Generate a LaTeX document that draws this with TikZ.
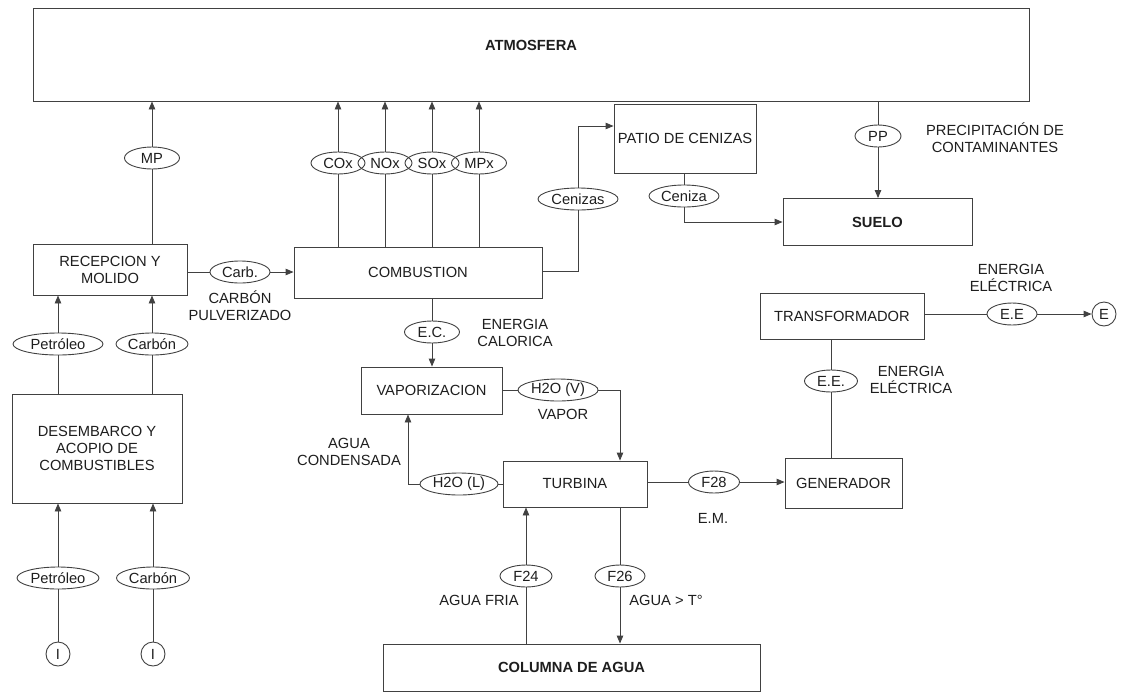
\documentclass[tikz,border=0pt]{standalone}
\usepackage{fontspec}
\setmainfont{Liberation Sans}
\usetikzlibrary{shapes.geometric,arrows.meta}
\definecolor{ln}{RGB}{65,65,65}
\definecolor{tx}{RGB}{30,30,30}
\begin{document}
\begin{tikzpicture}[x=1pt,y=-1pt,
  font=\fontsize{14.7}{17}\selectfont, text=tx,
  box/.style={draw=ln, line width=0.9pt, rectangle, inner sep=0, align=center},
  lab/.style={draw=ln, line width=0.9pt, ellipse, inner sep=0, minimum height=22},
  circ/.style={draw=ln, line width=0.9pt, circle, inner sep=0, minimum size=24},
  con/.style={draw=ln, line width=0.9pt},
  arr/.style={con, -{Triangle[length=8pt,width=6.5pt]}},
  note/.style={align=center, inner sep=0}]
\useasboundingbox (0,0) rectangle (1122,691);

% boxes
\node[box, minimum width=996, minimum height=93, text depth=19pt, font=\fontsize{14.7}{17}\selectfont\bfseries] (atm) at (531,54.5) {ATMOSFERA};
\node[box, minimum width=154, minimum height=51] (recep) at (110,269.5) {RECEPCION Y\\MOLIDO};
\node[box, minimum width=170, minimum height=109] (des) at (97,448.5) {DESEMBARCO Y\\ACOPIO DE\\COMBUSTIBLES};
\node[box, minimum width=248, minimum height=51] (comb) at (418,272.5) {COMBUSTION};
\node[box, minimum width=142, minimum height=69] (patio) at (685,138.5) {PATIO DE CENIZAS};
\node[box, minimum width=189, minimum height=47, font=\fontsize{14.7}{17}\selectfont\bfseries] (suelo) at (877.5,222) {SUELO};
\node[box, minimum width=141, minimum height=47] (vap) at (431.5,390.5) {VAPORIZACION};
\node[box, minimum width=144, minimum height=46] (turb) at (575,484) {TURBINA};
\node[box, minimum width=117, minimum height=50] (gen) at (843.5,483) {GENERADOR};
\node[box, minimum width=164, minimum height=46] (trans) at (842,316) {TRANSFORMADOR};
\node[box, minimum width=377, minimum height=47, font=\fontsize{14.7}{17}\selectfont\bfseries] (col) at (571.5,667.5) {COLUMNA DE AGUA};

% ellipse labels
\node[lab, minimum width=55] (mp) at (152,158) {MP};
\node[lab, minimum width=90] (pe1) at (58,344) {Petróleo};
\node[lab, minimum width=72] (ca1) at (152,344) {Carbón};
\node[lab, minimum width=82] (pe2) at (58,578) {Petróleo};
\node[lab, minimum width=73] (ca2) at (153,578) {Carbón};
\node[lab, minimum width=60] (carb) at (240,272) {Carb.};
\node[lab, minimum width=54] (cox) at (338,163) {COx};
\node[lab, minimum width=54] (nox) at (385,163) {NOx};
\node[lab, minimum width=54] (sox) at (432,163) {SOx};
\node[lab, minimum width=55] (mpx) at (479,163) {MPx};
\node[lab, minimum width=80] (cen) at (578,199) {Cenizas};
\node[lab, minimum width=70] (cza) at (684,196) {Ceniza};
\node[lab, minimum width=46] (pp) at (878,136) {PP};
\node[lab, minimum width=55] (ec) at (432,332) {E.C.};
\node[lab, minimum width=80] (hv) at (558,390) {H2O (V)};
\node[lab, minimum width=78] (hl) at (459,484) {H2O (L)};
\node[lab, minimum width=51] (f28) at (714,482) {F28};
\node[lab, minimum width=53] (ee1) at (831,381) {E.E.};
\node[lab, minimum width=50] (ee2) at (1012,314) {E.E};
\node[lab, minimum width=52] (f24) at (526,576) {F24};
\node[lab, minimum width=50] (f26) at (620,576) {F26};

% circles
\node[circ] (i1) at (58,654) {I};
\node[circ] (i2) at (153,654) {I};
\node[circ] (ecirc) at (1104,314) {E};

% notes
\node[note] (n1) at (240,306) {CARBÓN\\PULVERIZADO};
\node[note] (n2) at (515,333) {ENERGIA\\CALORICA};
\node[note] (n3) at (563,414) {VAPOR};
\node[note] (n4) at (349,452) {AGUA\\CONDENSADA};
\node[note] (n5) at (713,518) {E.M.};
\node[note] (n6) at (479,600) {AGUA FRIA};
\node[note] (n7) at (666,600) {AGUA > T°};
\node[note] (n8) at (911,380) {ENERGIA\\ELÉCTRICA};
\node[note] (n9) at (1011,278) {ENERGIA\\ELÉCTRICA};
\node[note] (n10) at (995,138) {PRECIPITACIÓN DE\\CONTAMINANTES};

% connectors
\draw[con] (mp |- recep.north) -- (mp.south);
\draw[arr] (mp.north) -- (mp |- atm.south);

\draw[con] (pe1 |- des.north) -- (pe1.south);
\draw[arr] (pe1.north) -- (pe1 |- recep.south);
\draw[con] (ca1 |- des.north) -- (ca1.south);
\draw[arr] (ca1.north) -- (ca1 |- recep.south);

\draw[con] (i1.north) -- (pe2.south);
\draw[arr] (pe2.north) -- (pe2 |- des.south);
\draw[con] (i2.north) -- (ca2.south);
\draw[arr] (ca2.north) -- (ca2 |- des.south);

\draw[con] (recep.east |- carb) -- (carb.west);
\draw[arr] (carb.east) -- (carb -| comb.west);

\foreach \g in {cox,nox,sox,mpx}{
  \draw[con] (\g |- comb.north) -- (\g.south);
  \draw[arr] (\g.north) -- (\g |- atm.south);
}

\draw[con] (comb.east |- 0,271) -| (cen.south);
\draw[arr] (cen.north) |- ([yshift=12.5pt]patio.west);

\draw[con] (cza |- patio.south) -- (cza.north);
\draw[arr] (cza.south) |- (suelo.west);

\draw[con] (pp |- atm.south) -- (pp.north);
\draw[arr] (pp.south) -- (pp |- suelo.north);

\draw[con] (ec |- comb.south) -- (ec.north);
\draw[arr] (ec.south) -- (ec |- vap.north);

\draw[con] (vap.east |- hv) -- (hv.west);
\draw[arr] (hv.east) -| (f26 |- turb.north);

\draw[con] (turb.west |- hl) -- (hl.east);
\draw[arr] (hl.west) -| ([xshift=-23.5pt]vap.south);

\draw[con] (turb.east |- f28) -- (f28.west);
\draw[arr] (f28.east) -- (f28 -| gen.west);

\draw[con] (ee1 |- gen.north) -- (ee1.south);
\draw[con] (ee1.north) -- (ee1 |- trans.south);

\draw[con] (trans.east |- ee2) -- (ee2.west);
\draw[arr] (ee2.east) -- (ecirc.west);

\draw[con] (f24 |- col.north) -- (f24.south);
\draw[arr] (f24.north) -- (f24 |- turb.south);
\draw[con] (f26 |- turb.south) -- (f26.north);
\draw[arr] (f26.south) -- (f26 |- col.north);
\end{tikzpicture}
\end{document}
